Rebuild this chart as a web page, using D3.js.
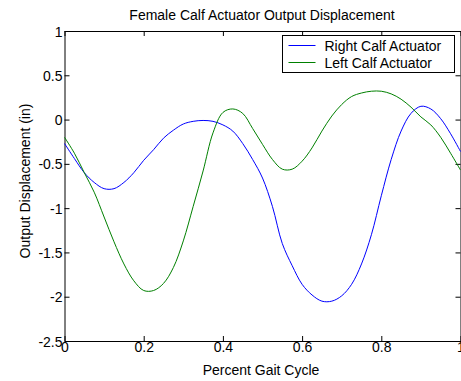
<!DOCTYPE html>
<html>
<head>
<meta charset="utf-8">
<script src="https://cdn.jsdelivr.net/npm/d3@7"></script>
<style>
  body { margin: 0; background: #fff; }
  svg { display: block; font-family: "Liberation Sans", Arial, sans-serif; }
  .tick text { font-size: 14px; fill: #000; }
</style>
</head>
<body>
<svg class="chart" width="461" height="381"></svg>
<script>
// ---- Data ----
const gait = [0, 0.025, 0.05, 0.075, 0.1, 0.125, 0.15, 0.175, 0.2, 0.225, 0.25, 0.275, 0.3, 0.325,
    0.35, 0.375, 0.4, 0.425, 0.45, 0.475, 0.5, 0.525, 0.55, 0.575, 0.6, 0.625, 0.65, 0.675,
    0.7, 0.725, 0.75, 0.775, 0.8, 0.825, 0.85, 0.875, 0.9, 0.925, 0.95, 0.975, 1.0];
const rightCalf = [-0.27, -0.44, -0.60, -0.71, -0.78, -0.78, -0.71, -0.60, -0.46, -0.34, -0.21, -0.12,
    -0.05, -0.02, -0.01, -0.02, -0.06, -0.13, -0.27, -0.45, -0.66, -0.98, -1.40, -1.65, -1.86, -1.98,
    -2.05, -2.05, -1.99, -1.86, -1.63, -1.30, -0.86, -0.45, -0.13, 0.07, 0.15, 0.12, 0.01, -0.16, -0.36];
const leftCalf = [-0.20, -0.38, -0.60, -0.82, -1.10, -1.38, -1.63, -1.82, -1.93, -1.93, -1.85, -1.67,
    -1.37, -0.98, -0.58, -0.15, 0.08, 0.12, 0.07, -0.10, -0.28, -0.45, -0.56, -0.56, -0.47, -0.32,
    -0.13, 0.04, 0.17, 0.26, 0.30, 0.32, 0.32, 0.29, 0.23, 0.14, 0.03, -0.06, -0.20, -0.38, -0.57];
const xTicks = [0, 0.2, 0.4, 0.6, 0.8, 1];
const yTicks = [1, 0.5, 0, -0.5, -1, -1.5, -2, -2.5];
const seriesNames = ["Right Calf Actuator", "Left Calf Actuator"];
const seriesColors = ["#0000ff", "#008000"];

// ---- Layout ----
const svg = d3.select("svg.chart");
const plotL = 64.5, plotR = 460.5, plotT = 31, plotB = 341;

const x = d3.scaleLinear().domain([0, 1]).range([plotL, plotR]);
const y = d3.scaleLinear().domain([-2.5, 1]).range([plotB, plotT]);

// plain hyphen minus like the original, not the unicode one
const fmt = d => String(d);

// Axes, ticks pointing inward on all four sides
svg.append("g")
    .attr("transform", `translate(0,${plotB})`)
    .call(d3.axisBottom(x).tickValues(xTicks).tickFormat(fmt).tickSizeInner(-5).tickSizeOuter(0).tickPadding(6));
svg.append("g")
    .attr("transform", `translate(0,${plotT})`)
    .call(d3.axisTop(x).tickValues(xTicks).tickFormat("").tickSizeInner(-5).tickSizeOuter(0));
svg.append("g")
    .attr("transform", `translate(${plotL},0)`)
    .call(d3.axisLeft(y).tickValues(yTicks).tickFormat(fmt).tickSizeInner(-5).tickSizeOuter(0).tickPadding(2));
svg.append("g")
    .attr("transform", `translate(${plotR},0)`)
    .call(d3.axisRight(y).tickValues(yTicks).tickFormat("").tickSizeInner(-5).tickSizeOuter(0));

svg.selectAll(".domain").attr("stroke", "#000");
svg.selectAll(".tick line").attr("stroke", "#000");
svg.selectAll(".tick text").attr("dy", null).attr("dominant-baseline", "central");

// ---- Lines ----
const line = d3.line()
    .x(d => x(d[0]))
    .y(d => y(d[1]))
    .curve(d3.curveCatmullRom);

[rightCalf, leftCalf].forEach((vals, i) => {
    svg.append("path")
        .datum(gait.map((g, j) => [g, vals[j]]))
        .attr("fill", "none")
        .attr("stroke", seriesColors[i])
        .attr("stroke-width", 1)
        .attr("d", line);
});

// ---- Legend ----
const lg = svg.append("g").attr("transform", "translate(282.5,35.5)");
lg.append("rect")
    .attr("width", 172).attr("height", 37)
    .attr("fill", "#fff").attr("stroke", "#000");
seriesNames.forEach((name, i) => {
    const ly = 10 + i * 17;
    lg.append("line")
        .attr("x1", 6).attr("x2", 33)
        .attr("y1", ly).attr("y2", ly)
        .attr("stroke", seriesColors[i]);
    lg.append("text")
        .attr("x", 42).attr("y", ly)
        .attr("dominant-baseline", "central")
        .style("font-size", "14px")
        .text(name);
});

// ---- Titles ----
svg.append("text")
    .attr("x", 262).attr("y", 15)
    .attr("text-anchor", "middle").attr("dominant-baseline", "central")
    .style("font-size", "14px")
    .text("Female Calf Actuator Output Displacement");
svg.append("text")
    .attr("x", 261).attr("y", 370)
    .attr("text-anchor", "middle").attr("dominant-baseline", "central")
    .style("font-size", "14px")
    .text("Percent Gait Cycle");
svg.append("text")
    .attr("transform", "translate(25,181) rotate(-90)")
    .attr("text-anchor", "middle").attr("dominant-baseline", "central")
    .style("font-size", "14px")
    .text("Output Displacement (in)");
</script>
</body>
</html>
